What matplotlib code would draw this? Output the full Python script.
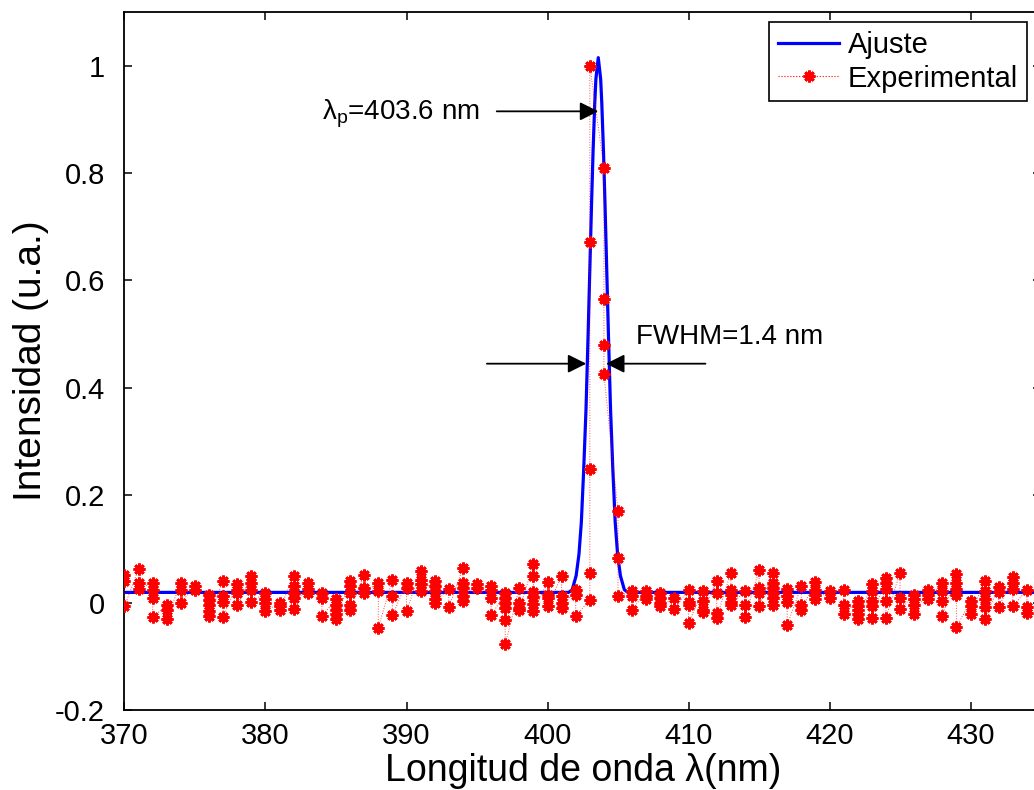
import numpy as np
import matplotlib
matplotlib.use("Agg")
import matplotlib.pyplot as plt

plt.rcParams["font.family"] = ["Liberation Sans", "DejaVu Sans"]
plt.rcParams["mathtext.fontset"] = "custom"
plt.rcParams["mathtext.rm"] = "Liberation Sans"

# Experimental spectrum: several readings per nanometre column
wl_cols = list(range(370, 435))
int_cols = [
    [0.052, 0.041, -0.007],                # 370
    [0.063, 0.037, 0.025],
    [0.037, 0.024, 0.009, -0.027],
    [-0.005, -0.013, -0.030],
    [0.037, 0.024, 0.0],
    [0.031, 0.024],                        # 375
    [0.014, 0.005, -0.004, -0.016, -0.025],
    [0.040, 0.013, 0.002, -0.027],
    [0.035, 0.024, 0.018, -0.004],
    [0.049, 0.037, 0.024, 0.002],
    [0.018, 0.007, -0.001, -0.015],        # 380
    [-0.001, -0.007, -0.013],
    [0.050, 0.030, 0.018, 0.009, -0.012],
    [0.037, 0.026, 0.018],
    [0.017, 0.009, -0.025],
    [0.006, -0.004, -0.013, -0.022, -0.030],  # 385
    [0.040, 0.030, 0.018, -0.004, -0.013],
    [0.052, 0.028, 0.018],
    [0.037, 0.021, -0.047],
    [0.043, 0.012, -0.024],
    [0.037, 0.027, -0.016],                # 390
    [0.059, 0.043, 0.034, 0.021],
    [0.040, 0.031, 0.022, 0.006, 0.0],
    [0.025, -0.009],
    [0.065, 0.037, 0.028, 0.012, 0.003],
    [0.034, 0.028],                        # 395
    [0.030, 0.024, 0.009, -0.024],
    [0.018, 0.009, -0.001, -0.010, -0.032, -0.078],
    [0.027, 0.0, -0.010, -0.013],
    [0.071, 0.050, 0.020, 0.010, -0.002, -0.015],
    [0.038, 0.015, 0.009, -0.007],         # 400
    [0.049, 0.012, 0.0, -0.010],
    [0.024, 0.015, -0.025],
    [0.005, 0.055, 0.248, 0.672, 1.0],
    [0.81, 0.565, 0.48, 0.425],
    [0.17, 0.083, 0.012],                  # 405
    [0.021, 0.012, -0.013],
    [0.021, 0.012, 0.006],
    [0.018, 0.009, 0.0, -0.007],
    [0.009, -0.012],
    [0.024, 0.002, -0.004, -0.038],        # 410
    [0.021, 0.003, -0.013, -0.017],
    [0.041, 0.018, -0.020, -0.028],
    [0.056, 0.024, 0.015, 0.002, -0.004],
    [0.021, -0.004, -0.027],
    [0.060, 0.028, 0.018, -0.006],         # 415
    [0.056, 0.037, 0.027, 0.018, 0.009, -0.004],
    [0.025, 0.012, 0.002, -0.041],
    [0.030, -0.004, -0.013],
    [0.038, 0.024, 0.015, 0.006],
    [0.021, 0.009],                        # 420
    [0.024, -0.004, -0.022],
    [0.003, -0.007, -0.013, -0.022, -0.031],
    [0.034, 0.022, 0.003, -0.006, -0.028],
    [0.045, 0.036, 0.026, 0.003, -0.028],
    [0.056, 0.009, -0.012],                # 425
    [0.014, 0.006, -0.004, -0.022],
    [0.024, 0.015, 0.006],
    [0.037, 0.022, 0.003, -0.025],
    [0.053, 0.037, 0.025, 0.015, -0.046],
    [0.003, -0.006, -0.022],               # 430
    [0.040, 0.021, 0.006, -0.009, -0.030],
    [0.029, 0.020, -0.009],
    [0.048, 0.037, 0.026, -0.007],
    [0.024, -0.008, -0.020],
]

# Fitted curve
fit_wl = [370.0, 401.5, 401.75, 402.03, 402.23, 402.4, 402.57, 402.73, 402.88,
          403.01, 403.12, 403.23, 403.35, 403.43, 403.6, 403.77, 403.85, 403.97,
          404.08, 404.19, 404.32, 404.47, 404.63, 404.8, 404.97, 405.17, 405.45,
          405.7, 435.0]
fit_int = [0.019, 0.019, 0.024, 0.05, 0.09, 0.15, 0.25, 0.36, 0.50,
           0.63, 0.74, 0.84, 0.93, 0.975, 1.015, 0.975, 0.93, 0.84,
           0.74, 0.63, 0.50, 0.36, 0.25, 0.15, 0.09, 0.05, 0.024,
           0.019, 0.019]

peak_wl = 403.6
fwhm = 1.4

exp_x = np.concatenate([[w] * len(v) for w, v in zip(wl_cols, int_cols)])
exp_y = np.concatenate(int_cols)

fig = plt.figure(figsize=(10.34, 7.9), dpi=100)
ax = fig.add_axes([0.1204, 0.1013, 0.8864, 0.8835])

ax.plot(fit_wl, fit_int, color=(0, 0, 1), lw=2.3, label="Ajuste", zorder=2)
# dotted connecting line kept faint, markers on top
ax.plot(exp_x, exp_y, color=(1, 0, 0), ls=":", lw=0.7, alpha=0.7, zorder=3)
ax.plot(exp_x, exp_y, color=(1, 0, 0), ls="none", marker=(8, 2, 0),
        markersize=8.5, markeredgewidth=2.0, zorder=3)
ax.plot([], [], color=(1, 0, 0), ls=":", lw=0.8, marker=(8, 2, 0),
        markersize=8.5, markeredgewidth=2.0, label="Experimental")

ax.set_xlim(370, 435)
ax.set_ylim(-0.2, 1.1)
ax.set_xticks(range(370, 431, 10))
yt = [-0.2, 0, 0.2, 0.4, 0.6, 0.8, 1.0]
ax.set_yticks(yt)
ax.set_yticklabels([f"{v:g}" for v in yt])
ax.tick_params(direction="in", length=6, width=1.1, top=True, right=True)
ax.tick_params(axis="y", pad=14)
ax.tick_params(axis="x", pad=9)
for lab in ax.get_xticklabels() + ax.get_yticklabels():
    lab.set_family(["Liberation Sans Narrow", "Liberation Sans"])
    lab.set_fontsize(21)
for s in ax.spines.values():
    s.set_linewidth(1.3)

ax.set_xlabel("Longitud de onda λ(nm)", fontsize=27, labelpad=2)
ax.set_ylabel("Intensidad (u.a.)", fontsize=28, labelpad=4)

arrow = dict(arrowstyle="-|>", color="k", lw=1.3, mutation_scale=28,
             shrinkA=0, shrinkB=0)
ax.annotate("", xy=(peak_wl, 0.915), xytext=(396.4, 0.915), arrowprops=arrow)
ax.text(384.0, 0.91, "λ$_\\mathrm{p}$=" + f"{peak_wl} nm", fontsize=20,
        ha="left", va="center")
ax.annotate("", xy=(402.75, 0.445), xytext=(395.7, 0.445), arrowprops=arrow)
ax.annotate("", xy=(404.15, 0.445), xytext=(411.2, 0.445), arrowprops=arrow)
ax.text(406.3, 0.495, f"FWHM={fwhm} nm", fontsize=20, ha="left", va="center")

leg = ax.legend(loc="upper right", bbox_to_anchor=(0.9932, 0.9722),
                bbox_transform=fig.transFigure, borderaxespad=0,
                fontsize=21, fancybox=False, framealpha=1, edgecolor="k",
                handlelength=2.1, handletextpad=0.3, labelspacing=0.2,
                borderpad=0.3)
leg.get_frame().set_linewidth(1.2)

fig.savefig("out.png", dpi=100)
